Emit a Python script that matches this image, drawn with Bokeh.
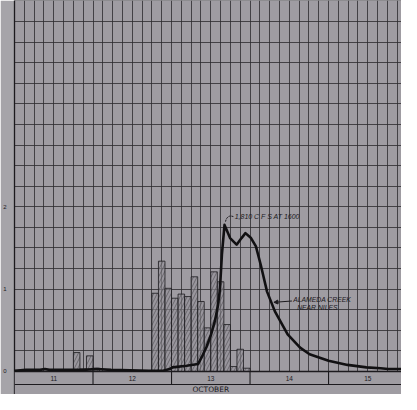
from bokeh.plotting import figure
from bokeh.models import Range1d, FixedTicker, BoxAnnotation, Span, Arrow, NormalHead, Label
from bokeh.core.properties import value
from bokeh.embed import file_html
from bokeh.resources import INLINE

# ---- data (time in hours after Oct 11 00:00, discharge in 1000 cfs) ----
flow_hours = [0, 3.5, 7.8, 9.3, 10.7, 20.8, 25.2, 29.5, 41.1, 45.4, 47.4, 48.3,
              52.6, 56.1, 57.3, 58.7, 60.1, 61.3, 62.2, 62.8, 63.4, 64.2,
              65.9, 67.9, 69.4, 70.6, 72.3, 73.8, 75.3, 77.2, 79.6, 83.5,
              87.3, 90.2, 96.0, 101.8, 107.6, 111.9, 114.2, 118.3]
flow_kcfs = [0.01, 0.02, 0.02, 0.03, 0.02, 0.02, 0.03, 0.02, 0.01, 0.01, 0.03, 0.05,
             0.07, 0.09, 0.18, 0.30, 0.45, 0.62, 0.80, 1.00, 1.42, 1.78,
             1.62, 1.54, 1.62, 1.68, 1.62, 1.52, 1.29, 0.97, 0.73, 0.45,
             0.29, 0.21, 0.13, 0.08, 0.05, 0.04, 0.03, 0.03]

rain_start_hours = [18, 20, 22, 24, 42, 44, 46, 48, 50, 52, 54, 56, 58, 60, 62, 64, 66, 68, 70]
rain_values = [0.23, 0.03, 0.19, 0.04, 0.95, 1.34, 1.01, 0.89, 0.94, 0.91, 1.15, 0.85,
               0.53, 1.21, 1.09, 0.57, 0.06, 0.27, 0.04]
rain_bar_hours = 2

day_labels = ["11", "12", "13", "14", "15"]
month_label = "OCTOBER"
y_tick_values = [0, 1, 2]
peak_note = "1,810 C F S AT 1600"
station_lines = ["ALAMEDA CREEK", "NEAR NILES"]

# ---- styling ----
BG = "#9f9ca2"
BORDER = "#a6a4a9"
INK = "#1c1a1e"
GRID = "#2c2a2e"

x_end = 118.3
y_end = 4.505
y_start = -0.2793
row_bottom = -0.158
label_y = -0.079
month_y = -0.2186

p = figure(width=401, height=394,
           x_range=Range1d(0, x_end), y_range=Range1d(y_start, y_end),
           output_backend="svg", toolbar_location=None,
           x_axis_location=None,
           min_border_left=8, min_border_right=0, min_border_top=0, min_border_bottom=0,
           background_fill_color=BG, border_fill_color=BORDER)
p.outline_line_color = None

# grid: every 3 hours and every 0.25 thousand cfs
p.xgrid.ticker = FixedTicker(ticks=[3 * i for i in range(int(x_end // 3) + 1)])
p.ygrid.ticker = FixedTicker(ticks=[0.25 * i for i in range(19)])
for g in (p.xgrid[0], p.ygrid[0]):
    g.grid_line_color = GRID
    g.grid_line_width = 1
    g.grid_line_alpha = 0.8

# y axis
ax = p.yaxis[0]
ax.ticker = FixedTicker(ticks=y_tick_values)
ax.axis_line_color = INK
ax.axis_line_width = 1.3
ax.major_tick_line_color = None
ax.minor_tick_line_color = None
ax.major_label_text_font_size = "6px"
ax.major_label_text_color = INK
ax.major_label_standoff = 2
ax.major_label_text_font = "Liberation Sans"

# rainfall bars (hatched)
p.vbar(x=[h + rain_bar_hours / 2 for h in rain_start_hours], width=rain_bar_hours,
       top=rain_values, bottom=0,
       fill_color="#96939a", fill_alpha=0.6,
       hatch_pattern="right_diagonal_line", hatch_color="#4a484d", hatch_scale=7,
       hatch_weight=0.7, hatch_alpha=0.85,
       line_color=INK, line_width=0.8)

# day row below the zero line
p.add_layout(BoxAnnotation(top=0, fill_color=BG, fill_alpha=1, line_color=None))
p.add_layout(Span(location=0, dimension="width", line_color=INK, line_width=1.3))
p.add_layout(Span(location=row_bottom, dimension="width", line_color=INK, line_width=1.1))

day_bounds = [24 * (i + 1) for i in range(len(day_labels) - 1)]
p.segment(x0=day_bounds, x1=day_bounds, y0=[row_bottom] * len(day_bounds), y1=[0] * len(day_bounds),
          line_color=INK, line_width=1.1, level="overlay")
p.text(x=[24 * i + 12 for i in range(len(day_labels))], y=[label_y] * len(day_labels), text=day_labels,
       text_font=value("Liberation Sans"), text_font_size=value("6.5px"), text_color=INK,
       text_align="center", text_baseline="middle", level="overlay")
p.text(x=[60], y=[month_y], text=[month_label],
       text_font=value("DejaVu Sans"), text_font_size=value("7.5px"), text_color=INK,
       text_align="center", text_baseline="middle", level="overlay")

# hydrograph
p.line(flow_hours, flow_kcfs, line_color="#111012", line_width=2.6, line_join="round", level="overlay")

# peak note
ipk = max(range(len(flow_kcfs)), key=lambda i: flow_kcfs[i])
pk_x, pk_y = flow_hours[ipk], flow_kcfs[ipk]
note_x, note_y = pk_x + 3.1, pk_y + 0.10
p.bezier(x0=[pk_x + 0.3], y0=[pk_y + 0.04], x1=[note_x - 0.3], y1=[note_y],
         cx0=[pk_x + 0.6], cy0=[pk_y + 0.10], cx1=[note_x - 1.6], cy1=[note_y + 0.02],
         line_color=INK, line_width=1, line_dash="2 1", level="overlay")
p.add_layout(Label(x=note_x, y=note_y, text=peak_note, text_font="Liberation Sans",
                   text_font_style="italic", text_font_size="7px", text_color=INK,
                   text_baseline="middle"))

# station label with arrow
st_x, st_y = 85.2, 0.871
p.add_layout(Label(x=st_x, y=st_y, text=station_lines[0], text_font="Liberation Sans",
                   text_font_style="italic", text_font_size="6.8px", text_color=INK,
                   text_baseline="middle"))
p.add_layout(Label(x=st_x + 1.2, y=st_y - 0.089, text=station_lines[1], text_font="Liberation Sans",
                   text_font_style="italic", text_font_size="6.8px", text_color=INK,
                   text_baseline="middle"))
p.add_layout(Arrow(x_start=st_x - 0.4, y_start=st_y - 0.015, x_end=79.3, y_end=0.84,
                   line_color=INK, line_width=1,
                   end=NormalHead(size=4, fill_color=INK, line_color=INK)))

open("out.html", "w").write(file_html(p, INLINE))
